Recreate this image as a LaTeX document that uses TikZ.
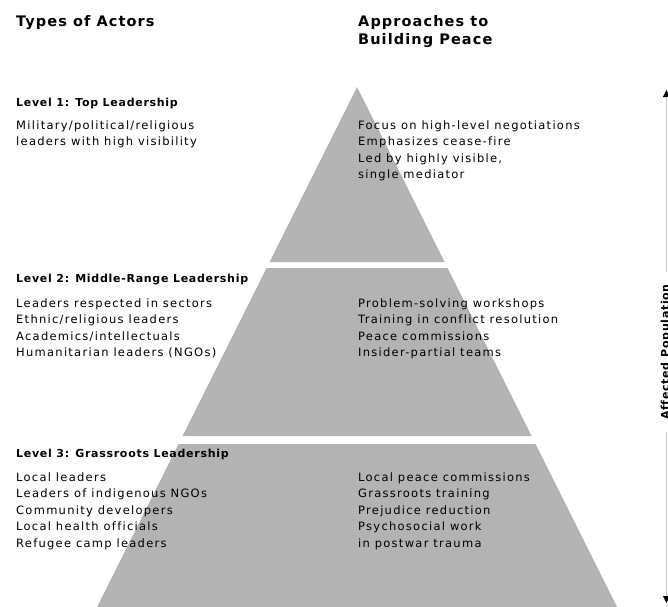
\documentclass[tikz,border=0pt]{standalone}
\usepackage{fontspec}
\usetikzlibrary{arrows.meta}
\newfontfamily\bodyfont{DejaVu Sans}[LetterSpace=11,Ligatures=NoCommon]
\newfontfamily\headfont{DejaVu Sans}[LetterSpace=6.5,Ligatures=NoCommon]
\newfontfamily\titlefont{DejaVu Sans}[LetterSpace=7.5,Ligatures=NoCommon]
\definecolor{pyr}{HTML}{B3B3B3}
\definecolor{axisgray}{HTML}{C8C8C8}
\begin{document}
\begin{tikzpicture}[x=1pt,y=-1pt,
  % multi-line nodes: anchor "base" sits on the LAST line's baseline
  body/.style={anchor=base west, inner sep=0pt, align=left, font=\bodyfont\fontsize{11.5}{16.5}\selectfont},
  head/.style={anchor=base west, inner sep=0pt, font=\headfont\bfseries\fontsize{11}{16.5}\selectfont},
  heading/.style={anchor=base west, inner sep=0pt, align=left, font=\titlefont\bfseries\fontsize{14.5}{18.5}\selectfont},
  axislabel/.style={inner ysep=0pt, inner xsep=12pt, font=\headfont\bfseries\fontsize{11}{16.5}\selectfont},
  tier/.style={fill=pyr, draw=none},
  axisline/.style={draw=axisgray, line width=1pt, -{Triangle[width=7pt,length=7pt,color=black]}}]
\useasboundingbox (0,0) rectangle (668,606);
% pyramid tiers
\fill[tier] (357,87) -- (444.5,262) -- (269.5,262) -- cycle;
\fill[tier] (266.5,268) -- (447.5,268) -- (531.5,436) -- (182.5,436) -- cycle;
\fill[tier] (178.5,444) -- (535.5,444) -- (623.5,620) -- (90.5,620) -- cycle;
% headings
\node[heading] (tA) at (16,26) {Types of Actors};
\node[heading] (tB) at (358,44.5) {Approaches to\\Building Peace};
% level 1
\node[head] (h1) at (16,106) {Level 1: Top Leadership};
\node[body] (l1) at (16,145.5) {Military/political/religious\\leaders with high visibility};
\node[body] (r1) at (358,178.5) {Focus on high-level negotiations\\Emphasizes cease-fire\\Led by highly visible,\\single mediator};
% level 2
\node[head] (h2) at (16,282) {Level 2: Middle-Range Leadership};
\node[body] (l2) at (16,356.5) {Leaders respected in sectors\\Ethnic/religious leaders\\Academics/intellectuals\\Humanitarian leaders (NGOs)};
\node[body] (r2) at (358,356.5) {Problem-solving workshops\\Training in conflict resolution\\Peace commissions\\Insider-partial teams};
% level 3
\node[head] (h3) at (16,457) {Level 3: Grassroots Leadership};
\node[body] (l3) at (16,547) {Local leaders\\Leaders of indigenous NGOs\\Community developers\\Local health officials\\Refugee camp leaders};
\node[body] (r3) at (358,547) {Local peace commissions\\Grassroots training\\Prejudice reduction\\Psychosocial work\\in postwar trauma};
% affected population axis
\node[axislabel, rotate=90, anchor=base] (pop) at (669,352) {Affected Population};
\coordinate (atop) at (666.5,90);
\coordinate (abot) at (666.5,603);
\draw[axisline] (atop |- pop.east) -- (atop);
\draw[axisline] (abot |- pop.west) -- (abot);
\end{tikzpicture}
\end{document}
